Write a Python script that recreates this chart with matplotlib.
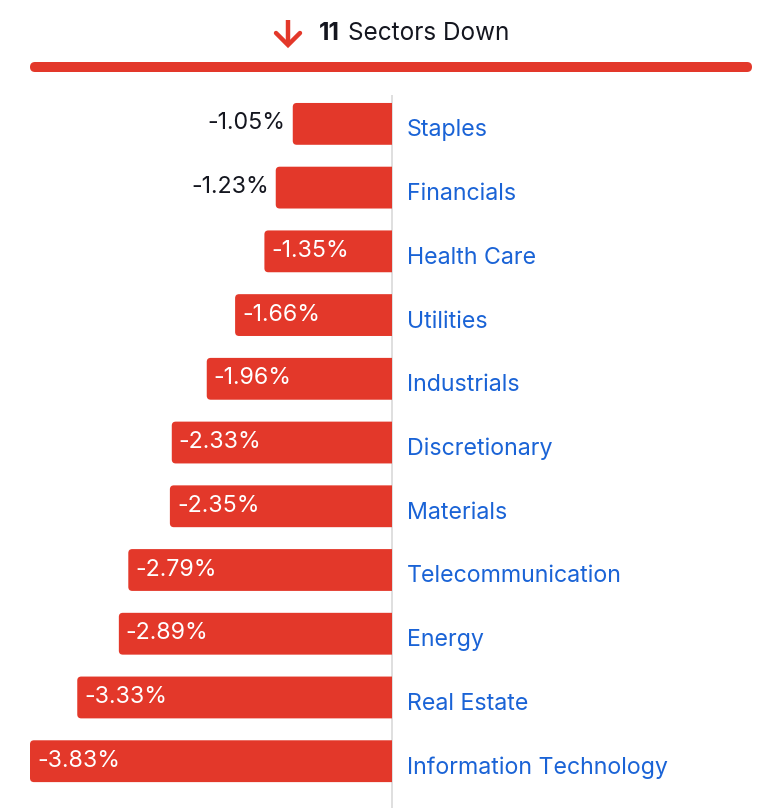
import matplotlib
matplotlib.use("Agg")
import matplotlib.pyplot as plt
from matplotlib.patches import FancyBboxPatch, Rectangle
from matplotlib.lines import Line2D

categories = ["Staples", "Financials", "Health Care", "Utilities", "Industrials",
              "Discretionary", "Materials", "Telecommunication", "Energy",
              "Real Estate", "Information Technology"]
values = [-1.05, -1.23, -1.35, -1.66, -1.96, -2.33, -2.35, -2.79, -2.89, -3.33, -3.83]
title_count = "11"
title_text = "Sectors Down"

RED = "#e3382a"
BLUE = "#1a63d6"
DARK = "#14161f"
FONT = ["Inter", "DejaVu Sans"]

W, H = 777, 808
fig = plt.figure(figsize=(W / 100, H / 100), dpi=100)
fig.patch.set_facecolor("white")

ax_top_px, ax_bot_px = 95, 808
ax = fig.add_axes([0, 0, 1, (H - ax_top_px) / H])
ax.set_axis_off()

zero_px = 392
ppu = (392 - 30) / 3.83  # pixels per percent
ax.set_xlim(-zero_px / ppu, (W - zero_px) / ppu)
row = 64.0
first_c = 124 - ax_top_px
last_c = ax_bot_px - 761
n = len(categories)
ax.set_ylim((n - 1) + last_c / row, -first_c / row)

bar_h = 42 / row
rad_px = 4
xpx = 1 / ppu
ypx = 1 / row
FS = 16.7

clip = Rectangle((-10, -5), 10, 30, transform=ax.transData)
for i, (cat, v) in enumerate(zip(categories, values)):
    p = FancyBboxPatch((v, i - bar_h / 2), -v + 0.2, bar_h,
                       boxstyle=f"round,pad=0,rounding_size={rad_px * xpx}",
                       mutation_aspect=ypx / xpx,
                       facecolor=RED, edgecolor="none", zorder=2)
    ax.add_patch(p)
    p.set_clip_path(clip)
    lbl = f"{v:.2f}%"
    if v <= -1.3:
        ax.text(v + 7 * xpx, i - 0.5 * ypx, lbl, color="white", ha="left", va="center",
                fontsize=FS, family=FONT, zorder=3)
    else:
        ax.text(v - 7 * xpx, i - 0.5 * ypx, lbl, color=DARK, ha="right", va="center",
                fontsize=FS, family=FONT, zorder=3)
    ax.text(15 * xpx, i + 6.5 * ypx, cat, color=BLUE, ha="left", va="center",
            fontsize=FS, family=FONT, zorder=3)

ax.axvline(0, color="#d9d9d9", lw=1.2, zorder=1)

def fx(x):
    return x / W

def fy(y):
    return 1 - y / H

bar = FancyBboxPatch((fx(30), fy(72)), fx(752) - fx(30), fy(62) - fy(72),
                     boxstyle=f"round,pad=0,rounding_size={5 / W}",
                     mutation_aspect=W / H,
                     transform=fig.transFigure, facecolor=RED, edgecolor="none")
fig.patches.append(bar)

lw = 3.2
fig.add_artist(Line2D([fx(288), fx(288)], [fy(20), fy(45)], transform=fig.transFigure,
                      color=RED, lw=lw, solid_capstyle="butt"))
fig.add_artist(Line2D([fx(276), fx(288), fx(300)], [fy(33), fy(45), fy(33)],
                      transform=fig.transFigure, color=RED, lw=lw,
                      solid_capstyle="round", solid_joinstyle="miter"))

t1 = fig.text(fx(319), fy(34), title_count, ha="left", va="center", fontsize=17.5,
              fontweight="bold", family=FONT, color=DARK)
fig.canvas.draw()
bb = t1.get_window_extent()
fig.text((bb.x1 + 8) / W, fy(34), title_text, ha="left", va="center", fontsize=17.5,
         family=FONT, color=DARK)

fig.savefig("out.png", dpi=100, facecolor="white")
